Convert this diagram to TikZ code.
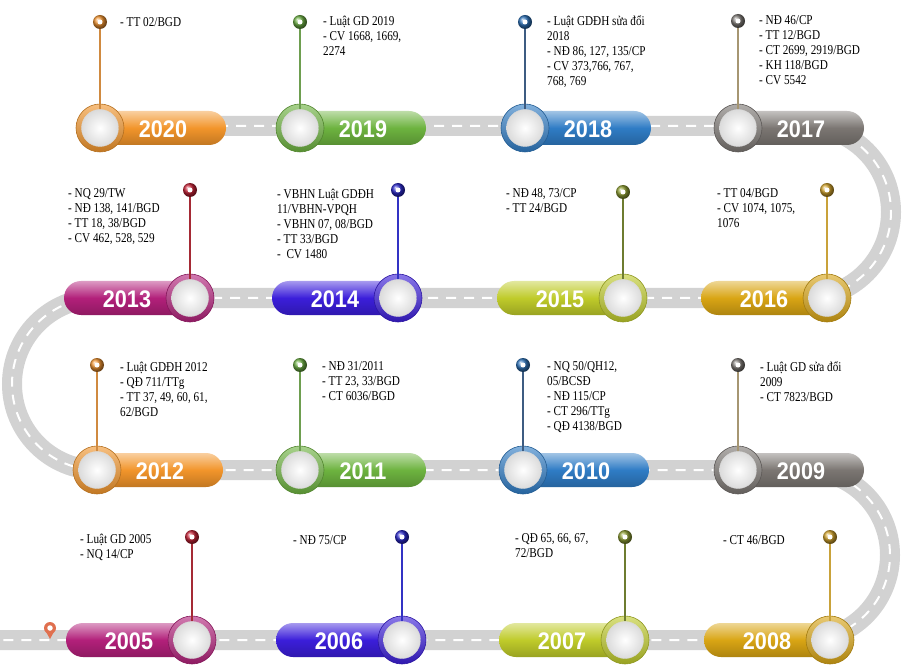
\documentclass[tikz,border=0pt]{standalone}
\usepackage{fontspec}
\setmainfont{Liberation Serif}
\newfontfamily\yearfont{Liberation Sans}
\definecolor{cOrange}{HTML}{F2952B}
\definecolor{cGreen}{HTML}{6DB33F}
\definecolor{cBlue}{HTML}{2F7CC5}
\definecolor{cGray}{HTML}{7B7672}
\definecolor{cMagenta}{HTML}{B2207A}
\definecolor{cViolet}{HTML}{3B1EDA}
\definecolor{cLime}{HTML}{BFCB2A}
\definecolor{cGold}{HTML}{D9A514}
\definecolor{sOrange}{HTML}{D08A40}
\definecolor{sGreen}{HTML}{6E9E50}
\definecolor{sBlue}{HTML}{3D5C82}
\definecolor{sGray}{HTML}{A69672}
\definecolor{sRed}{HTML}{A52A35}
\definecolor{sViolet}{HTML}{3333C4}
\definecolor{sOlive}{HTML}{6E7C30}
\definecolor{sGold}{HTML}{C9A23A}
\definecolor{bOrange}{HTML}{EE9230}
\definecolor{bGreen}{HTML}{6CAE44}
\definecolor{bBlue}{HTML}{2E72B8}
\definecolor{bGray}{HTML}{7E7A76}
\definecolor{bRed}{HTML}{C42236}
\definecolor{bViolet}{HTML}{2A28C8}
\definecolor{bOlive}{HTML}{8E9E34}
\definecolor{bGold}{HTML}{D0A22C}
\definecolor{roadgray}{HTML}{D2D2D2}
\definecolor{pinred}{HTML}{E0704F}
\tikzset{
  pill/.style={rounded corners=17pt},
  yearlab/.style={text=white, font=\yearfont\bfseries\fontsize{24}{24}\selectfont, xscale=0.9, inner sep=0},
  ring/.style={circle, minimum size=48pt, inner sep=0, line width=0.6pt},
  hub/.style={circle, minimum size=37pt, inner sep=0, inner color=white, outer color=gray!28, draw=white!85!black, line width=0.4pt},
  ball/.style={circle, minimum size=14pt, inner sep=0},
  balldot/.style={circle, minimum size=5pt, inner sep=0, fill=white},
  stem/.style={line width=2.2pt},
  info/.style={anchor=north west, align=left, inner sep=0, xscale=0.83,
    font=\fontsize{13.5}{15}\selectfont, execute at begin node=\strut},
  road/.style={draw=white, line width=2pt, dash pattern=on 10pt off 8pt,
    preaction={draw=roadgray, line width=20pt, solid}},
}
% #1 id, #2 cx, #3 cy, #4 dir, #5 colour, #6 stem colour, #7 ball colour, #8 ball y
\newcommand\milestone[8]{%
  \path[pill, top color=#5!45!white, bottom color=#5!80!black, middle color=#5]
    ({#2-#4*20},{#3-17}) rectangle ({#2+#4*126},{#3+17});
  \node[yearlab] (y#1) at ({#2+#4*63},{#3+1}) {#1};
  \node[ring, top color=#5!60!white, bottom color=#5!80!black, draw=#5!75!black] (c#1) at (#2,#3) {};
  \node[hub] (h#1) at (#2,#3) {};
  \node[ball, ball color=#7] (b#1) at (#2,#8) {};
  \node[balldot] (d#1) at (#2,#8) {};
  \draw[stem, #6] (b#1) -- (h#1);
}
\begin{document}
\begin{tikzpicture}[x=1pt,y=-1pt]
\useasboundingbox (0,0) rectangle (902,668);
\clip (0,0) rectangle (902,668);
\fill[white] (0,0) rectangle (902,668);
% road
\coordinate (r0) at (110,126);
\coordinate (r1) at (805,126);
\coordinate (r2) at (98,298);
\coordinate (r3) at (805,470);
\coordinate (r4) at (0,640);
\draw[road] (r0) -- (r1) arc[start angle=-90, end angle=90, radius=86]
  -- (r2) arc[start angle=-90, end angle=-270, radius=86]
  -- (r3) arc[start angle=-90, end angle=90, radius=85] -- (r4);
% map pin
\fill[pinred] (44.5,629) -- (55.5,629) -- (50,639) -- cycle;
\node[circle, fill=pinred, minimum size=12pt, inner sep=0] (pin) at (50,628) {};
\node[circle, fill=white, minimum size=5.5pt, inner sep=0] (pinc) at (pin) {};
% row 1
\milestone{2020}{100}{128}{1}{cOrange}{sOrange}{bOrange}{22}
\milestone{2019}{300}{128}{1}{cGreen}{sGreen}{bGreen}{22}
\milestone{2018}{525}{128}{1}{cBlue}{sBlue}{bBlue}{22}
\milestone{2017}{738}{128}{1}{cGray}{sGray}{bGray}{21}
% row 2
\milestone{2013}{190}{298}{-1}{cMagenta}{sRed}{bRed}{190}
\milestone{2014}{398}{298}{-1}{cViolet}{sViolet}{bViolet}{190}
\milestone{2015}{623}{298}{-1}{cLime}{sOlive}{bOlive}{192}
\milestone{2016}{827}{298}{-1}{cGold}{sGold}{bGold}{190}
% row 3
\milestone{2012}{97}{470}{1}{cOrange}{sOrange}{bOrange}{365}
\milestone{2011}{300}{470}{1}{cGreen}{sGreen}{bGreen}{365}
\milestone{2010}{523}{470}{1}{cBlue}{sBlue}{bBlue}{365}
\milestone{2009}{738}{470}{1}{cGray}{sGray}{bGray}{365}
% row 4
\milestone{2005}{192}{640}{-1}{cMagenta}{sRed}{bRed}{537}
\milestone{2006}{402}{640}{-1}{cViolet}{sViolet}{bViolet}{537}
\milestone{2007}{625}{640}{-1}{cLime}{sOlive}{bOlive}{537}
\milestone{2008}{830}{640}{-1}{cGold}{sGold}{bGold}{537}
% texts (top = first baseline - 10.5)
\node[info] (t2020) at (120,15.5) {- TT 02/BGD};
\node[info] (t2019) at (323,15.5) {- Luật GD 2019\\- CV 1668, 1669,\\2274};
\node[info] (t2018) at (547,15.5) {- Luật GDĐH sửa đổi\\2018\\- NĐ 86, 127, 135/CP\\- CV 373,766, 767,\\768, 769};
\node[info] (t2017) at (759,15.5) {- NĐ 46/CP\\- TT 12/BGD\\- CT 2699, 2919/BGD\\- KH 118/BGD\\- CV 5542};
\node[info] (t2013) at (68,188.5) {- NQ 29/TW\\- NĐ 138, 141/BGD\\- TT 18, 38/BGD\\- CV 462, 528, 529};
\node[info] (t2014) at (277,188.5) {- VBHN Luật GDĐH\\11/VBHN-VPQH\\- VBHN 07, 08/BGD\\- TT 33/BGD\\-\ \ CV 1480};
\node[info] (t2015) at (506,188.5) {- NĐ 48, 73/CP\\- TT 24/BGD};
\node[info] (t2016) at (717,188.5) {- TT 04/BGD\\- CV 1074, 1075,\\1076};
\node[info] (t2012) at (120,361.5) {- Luật GDĐH 2012\\- QĐ 711/TTg\\- TT 37, 49, 60, 61,\\62/BGD};
\node[info] (t2011) at (322,361.5) {- NĐ 31/2011\\- TT 23, 33/BGD\\- CT 6036/BGD};
\node[info] (t2010) at (547,361.5) {- NQ 50/QH12,\\05/BCSĐ\\- NĐ 115/CP\\- CT 296/TTg\\- QĐ 4138/BGD};
\node[info] (t2009) at (760,361.5) {- Luật GD sửa đổi\\2009\\- CT 7823/BGD};
\node[info] (t2005) at (80,533.5) {- Luật GD 2005\\- NQ 14/CP};
\node[info] (t2006) at (293,533.5) {- NĐ 75/CP};
\node[info] (t2007) at (515,533.5) {- QĐ 65, 66, 67,\\72/BGD};
\node[info] (t2008) at (723,533.5) {- CT 46/BGD};
\end{tikzpicture}
\end{document}
